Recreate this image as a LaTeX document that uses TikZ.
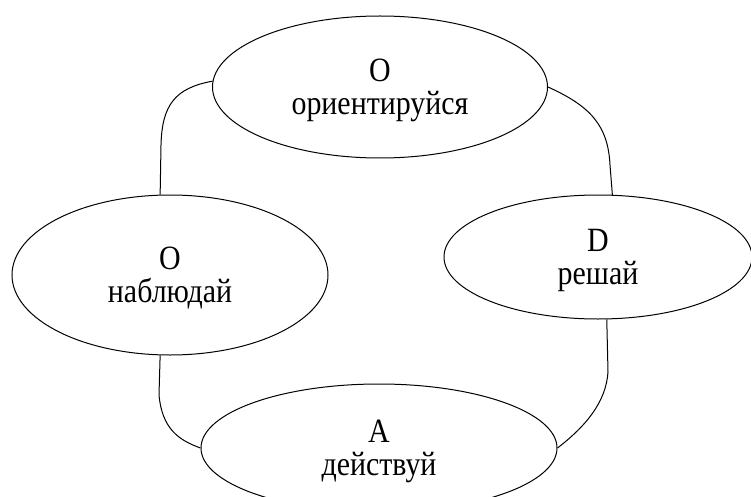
\documentclass[tikz,border=0pt]{standalone}
\usepackage{fontspec}
\setmainfont[FakeStretch=0.88]{Liberation Serif}
\usetikzlibrary{shapes.geometric}

\begin{document}
\begin{tikzpicture}[x=1pt,y=-1pt,
  phase/.style={draw,ellipse,inner sep=0pt,align=center,text depth=0pt,
    line width=1pt,font=\fontsize{34}{33}\selectfont},
  link/.style={line width=1pt}]
  \useasboundingbox (0,0) rectangle (751,497);

  %% ── the four stages of the loop ──
  \node[phase,minimum width=335pt,minimum height=142pt] (orient)  at (380,87)  {O\\ориентируйся};
  \node[phase,minimum width=316pt,minimum height=160pt] (observe) at (170,275) {O\\наблюдай};
  \node[phase,minimum width=308pt,minimum height=124pt] (decide)  at (598,257) {D\\решай};
  \node[phase,minimum width=356pt,minimum height=128pt] (act)     at (379,448) {A\\действуй};

  %% ── connectors ──
  \draw[link] (orient.178) .. controls (175,88) and (162,105) .. (161,145) -- (observe.97);
  \draw[link] (orient.east) .. controls (590,106) and (608,125) .. (610,165) -- (decide.77);
  \draw[link] (observe.263) -- (159,395) .. controls (162,428) and (178,440) .. (act.west);
  \draw[link] (decide.278) -- (608,372) .. controls (606,402) and (586,426) .. (act.east);
\end{tikzpicture}
\end{document}
